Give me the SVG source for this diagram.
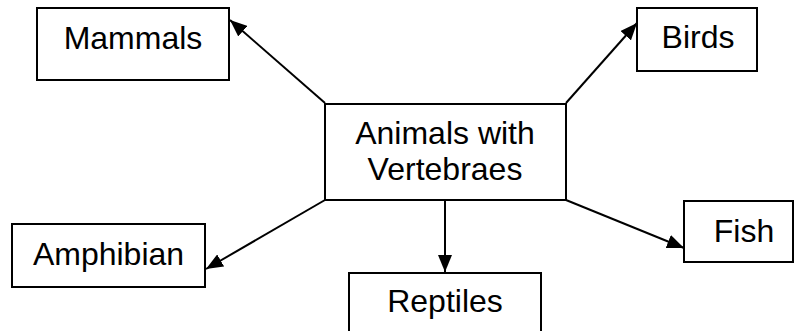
<svg xmlns="http://www.w3.org/2000/svg" width="794" height="331" viewBox="0 0 794 331">
  <style>
    .box { fill: #ffffff; stroke: #000000; stroke-width: 2; }
    .label { font-family: "Liberation Sans", Arial, sans-serif; font-size: 32px; fill: #000000; text-anchor: middle; }
    .link { stroke: #000000; stroke-width: 2; fill: none; marker-end: url(#arrow); }
  </style>
  <defs>
    <marker id="arrow" markerUnits="userSpaceOnUse" markerWidth="17" markerHeight="14" refX="17" refY="7" orient="auto">
      <path d="M0,0 L17,7 L0,14 z" fill="#000000"/>
    </marker>
  </defs>
  <rect width="794" height="331" fill="#ffffff"/>

  <g id="connectors">
    <line class="link" x1="325" y1="103" x2="230" y2="20"/>
    <line class="link" x1="566" y1="103" x2="637" y2="23"/>
    <line class="link" x1="325" y1="200" x2="206" y2="269"/>
    <line class="link" x1="445" y1="200" x2="445" y2="272"/>
    <line class="link" x1="566" y1="200" x2="684" y2="248"/>
  </g>

  <g id="center">
    <rect class="box" x="325" y="104" width="241" height="96"/>
    <text class="label" x="445" y="144">Animals with</text>
    <text class="label" x="445" y="180">Vertebraes</text>
  </g>

  <g id="mammals">
    <rect class="box" x="37" y="8" width="192" height="72"/>
    <text class="label" x="133" y="49">Mammals</text>
  </g>

  <g id="birds">
    <rect class="box" x="637" y="8" width="120" height="63"/>
    <text class="label" x="698" y="48">Birds</text>
  </g>

  <g id="amphibian">
    <rect class="box" x="12" y="224" width="193" height="63"/>
    <text class="label" x="108.5" y="265">Amphibian</text>
  </g>

  <g id="reptiles">
    <rect class="box" x="349" y="273" width="192" height="70"/>
    <text class="label" x="445" y="312">Reptiles</text>
  </g>

  <g id="fish">
    <rect class="box" x="684" y="201" width="109" height="61"/>
    <text class="label" x="744" y="242">Fish</text>
  </g>
</svg>
